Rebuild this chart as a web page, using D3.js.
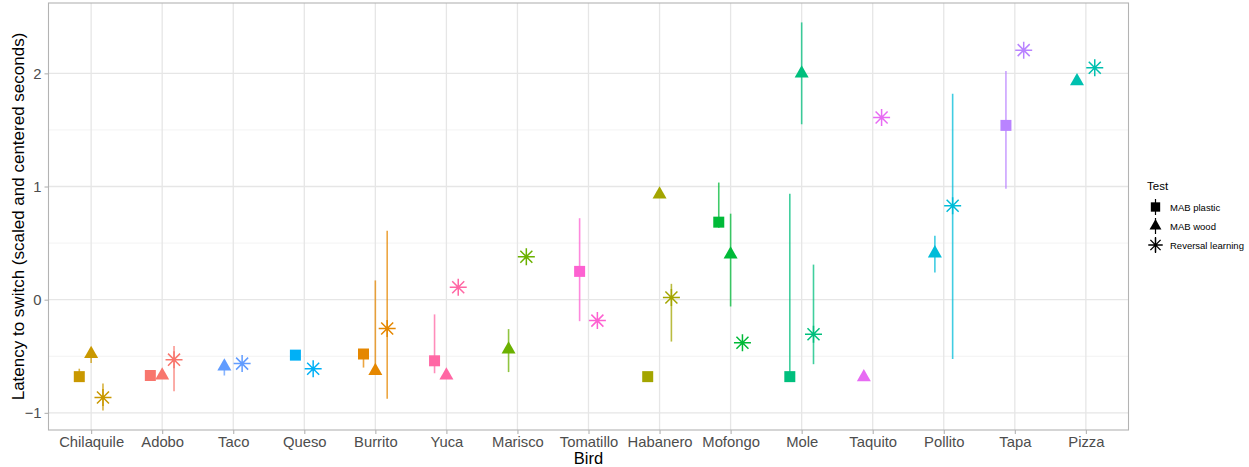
<!DOCTYPE html>
<html><head><meta charset="utf-8">
<script src="https://cdn.jsdelivr.net/npm/d3@7"></script>
<style>body{margin:0;background:#fff}svg{display:block}text{font-family:"Liberation Sans",Arial,sans-serif}</style>
</head><body><svg id="c" width="1249" height="467"></svg>
<script>
const birds = ["Chilaquile","Adobo","Taco","Queso","Burrito","Yuca","Marisco","Tomatillo","Habanero","Mofongo","Mole","Taquito","Pollito","Tapa","Pizza"];
const tests = ["MAB plastic","MAB wood","Reversal learning"];
const colorOrder = ["Adobo","Burrito","Chilaquile","Habanero","Marisco","Mofongo","Mole","Pizza","Pollito","Queso","Taco","Tapa","Taquito","Tomatillo","Yuca"];
const palette = ["#F8766D","#E58700","#C99800","#A3A500","#6BB100","#00BA38","#00BF7D","#00C0AF","#00BCD8","#00B0F6","#619CFF","#B983FF","#E76BF3","#FD61D1","#FF67A4"];
// [bird, value, lower, upper]
const plastic = [
 ["Chilaquile",-0.68,-0.72,-0.61],["Adobo",-0.67,-0.68,-0.66],["Queso",-0.49,-0.49,-0.49],
 ["Burrito",-0.48,-0.60,-0.48],["Yuca",-0.54,-0.65,-0.13],["Tomatillo",0.25,-0.19,0.72],
 ["Habanero",-0.68,-0.68,-0.68],["Mofongo",0.685,0.635,1.035],["Mole",-0.68,-0.68,0.935],
 ["Tapa",1.54,0.98,2.02]];
const wood = [
 ["Chilaquile",-0.48,-0.56,-0.47],["Adobo",-0.67,-0.67,-0.67],["Taco",-0.59,-0.67,-0.59],
 ["Burrito",-0.63,-0.63,0.17],["Yuca",-0.67,-0.67,-0.67],["Marisco",-0.44,-0.64,-0.26],
 ["Habanero",0.93,0.93,0.93],["Mofongo",0.40,-0.06,0.76],["Mole",2.0,1.55,2.45],
 ["Taquito",-0.685,-0.685,-0.685],["Pollito",0.41,0.24,0.565],["Pizza",1.93,1.93,1.93]];
const reversal = [
 ["Chilaquile",-0.865,-0.98,-0.74],["Adobo",-0.53,-0.81,-0.41],["Taco",-0.565,-0.565,-0.565],
 ["Queso",-0.61,-0.61,-0.61],["Burrito",-0.255,-0.875,0.61],["Yuca",0.11,0.11,0.11],
 ["Marisco",0.38,0.38,0.38],["Tomatillo",-0.185,-0.185,-0.185],["Habanero",0.02,-0.37,0.14],
 ["Mofongo",-0.38,-0.38,-0.38],["Mole",-0.305,-0.57,0.31],["Taquito",1.61,1.61,1.61],
 ["Pollito",0.83,-0.525,1.82],["Tapa",2.205,2.205,2.205],["Pizza",2.05,2.05,2.05]];
const yTicks = [-1,0,1,2];
const yMinor = [-0.5,0.5,1.5];

const rows = [];
[plastic,wood,reversal].forEach((arr,ti)=>arr.forEach(r=>rows.push({bird:r[0],test:tests[ti],v:r[1],lo:r[2],hi:r[3]})));

const svg = d3.select("#c");
const L=48.5, R=1128.5, T=3, B=430;
const x = d3.scalePoint().domain(birds).range([L,R]).padding(0.6);
const step = x.step();
const ext = [d3.min(rows,d=>d.lo), d3.max(rows,d=>d.hi)];
const pad = (ext[1]-ext[0])*0.05;
const y = d3.scaleLinear().domain([ext[0]-pad, ext[1]+pad]).range([B,T]);
const color = d3.scaleOrdinal().domain(colorOrder).range(palette);

const byBird = d3.group(rows,d=>d.bird);
rows.forEach(d=>{
  const g = byBird.get(d.bird).map(e=>e.test).sort((a,b)=>tests.indexOf(a)-tests.indexOf(b));
  const n=g.length, i=g.indexOf(d.test);
  d.x = x(d.bird) + (i-(n-1)/2)*(0.5/n)*step;
});

const grid = svg.append("g");
yMinor.forEach(v=>grid.append("line").attr("x1",L).attr("x2",R).attr("y1",y(v)).attr("y2",y(v)).attr("stroke","#f0f0f0").attr("stroke-width",0.8));
yTicks.forEach(v=>grid.append("line").attr("x1",L).attr("x2",R).attr("y1",y(v)).attr("y2",y(v)).attr("stroke","#e6e6e6").attr("stroke-width",1.3));
birds.forEach(b=>grid.append("line").attr("x1",x(b)).attr("x2",x(b)).attr("y1",T).attr("y2",B).attr("stroke","#e6e6e6").attr("stroke-width",1.3));

svg.append("g").selectAll("line").data(rows.filter(d=>d.hi>d.lo)).join("line")
 .attr("x1",d=>d.x).attr("x2",d=>d.x).attr("y1",d=>y(d.lo)).attr("y2",d=>y(d.hi))
 .attr("stroke",d=>color(d.bird)).attr("stroke-width",1.6).attr("stroke-opacity",0.75);

function shapePath(test){
  if(test==="MAB plastic") return "M-5.5,-5.5H5.5V5.5H-5.5Z";
  if(test==="MAB wood") return "M0,-8.2L7,4.1L-7,4.1Z";
  let p="";
  for(let k=0;k<4;k++){const a=k*Math.PI/4; const r=8.5; p+=`M${(-r*Math.sin(a)).toFixed(2)},${(-r*Math.cos(a)).toFixed(2)}L${(r*Math.sin(a)).toFixed(2)},${(r*Math.cos(a)).toFixed(2)}`;}
  return p;
}
svg.append("g").selectAll("path").data(rows).join("path")
 .attr("transform",d=>`translate(${d.x},${y(d.v)})`)
 .attr("d",d=>shapePath(d.test))
 .attr("fill",d=>d.test==="Reversal learning"?"none":color(d.bird))
 .attr("stroke",d=>d.test==="Reversal learning"?color(d.bird):"none")
 .attr("stroke-width",1.5);

svg.append("rect").attr("x",L).attr("y",T).attr("width",R-L).attr("height",B-T).attr("fill","none").attr("stroke","#b3b3b3").attr("stroke-width",1.1);

const xa = svg.append("g").attr("transform",`translate(0,${B})`).call(d3.axisBottom(x).tickSize(4).tickPadding(2));
const ya = svg.append("g").attr("transform",`translate(${L},0)`).call(d3.axisLeft(y).tickValues(yTicks).tickSize(4).tickPadding(3).tickFormat(d3.format("d")));
[xa,ya].forEach(a=>{a.select(".domain").remove();a.selectAll("line").attr("stroke","#b3b3b3").attr("stroke-width",1.1);a.selectAll("text").attr("fill","#4d4d4d").style("font-size","14.8px").style("font-family","Liberation Sans, Arial, sans-serif");});

svg.append("text").attr("x",(L+R)/2).attr("y",464).attr("text-anchor","middle").style("font-size","16.5px").attr("fill","#000").text("Bird");
svg.append("text").attr("transform",`translate(24,${(T+B)/2}) rotate(-90)`).attr("text-anchor","middle").style("font-size","17px").attr("fill","#000").text("Latency to switch (scaled and centered seconds)");

const lg = svg.append("g").attr("transform","translate(1147,0)");
lg.append("text").attr("x",0).attr("y",190).style("font-size","11.5px").attr("fill","#000").text("Test");
tests.forEach((t,i)=>{
  const cy = 207+i*19;
  const g = lg.append("g").attr("transform",`translate(8.5,${cy})`);
  g.append("line").attr("x1",0).attr("x2",0).attr("y1",-8).attr("y2",8).attr("stroke","#000").attr("stroke-width",1.2);
  g.append("path").attr("d",shapePath(t)).attr("transform","scale(0.85)")
   .attr("fill",t==="Reversal learning"?"none":"#000").attr("stroke",t==="Reversal learning"?"#000":"none").attr("stroke-width",1.6);
  lg.append("text").attr("x",23).attr("y",cy+3.5).style("font-size","9.5px").attr("fill","#000").text(t);
});
</script></body></html>
